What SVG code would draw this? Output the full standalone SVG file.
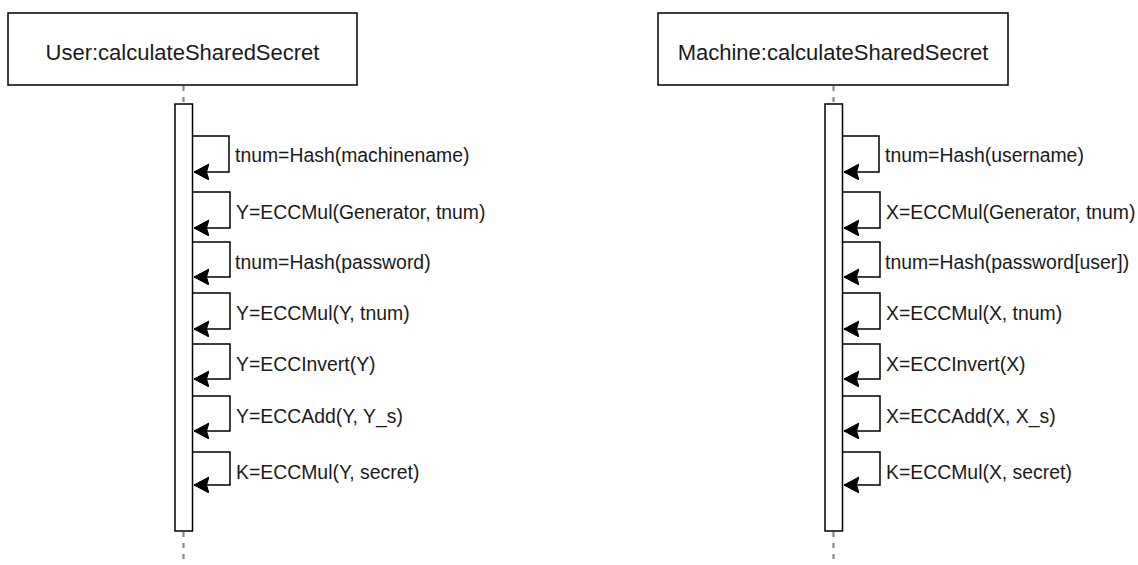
<svg xmlns="http://www.w3.org/2000/svg" width="1138" height="565" viewBox="0 0 1138 565">
  <style>
    .head { fill: #ffffff; stroke: #000000; stroke-width: 1.5; }
    .act { fill: #ffffff; stroke: #000000; stroke-width: 1.5; }
    .life { stroke: #8a8a8a; stroke-width: 2.2; stroke-dasharray: 5 6; fill: none; }
    .title { font-family: "Liberation Sans", Arial, sans-serif; font-size: 22px; fill: #1a1a1a; text-anchor: middle; }
    .msg { fill: none; stroke: #000000; stroke-width: 1.5; marker-end: url(#arrow); }
    .lbl { font-family: "Liberation Sans", Arial, sans-serif; font-size: 19.4px; fill: #1a1a1a; }
  </style>
  <defs>
    <marker id="arrow" markerUnits="userSpaceOnUse" markerWidth="18" markerHeight="18" refX="15" refY="8" orient="auto" viewBox="0 0 18 18">
      <path d="M0,0 L15,8 L0,16 L2.5,8 Z" fill="#000000" stroke="#000000" stroke-width="1" stroke-linejoin="miter"/>
    </marker>
  </defs>
  <rect width="1138" height="565" fill="#ffffff"/>

  <!-- User lifeline -->
  <g id="user">
    <rect class="head" x="8" y="13" width="349" height="72"/>
    <text class="title" x="182.5" y="59.5">User:calculateSharedSecret</text>
    <line class="life" x1="183.5" y1="86" x2="183.5" y2="104"/>
    <line class="life" x1="183.5" y1="532" x2="183.5" y2="565"/>
    <rect class="act" x="175" y="104" width="17.5" height="427"/>
  </g>

  <!-- Machine lifeline -->
  <g id="machine">
    <rect class="head" x="658" y="13" width="350" height="72"/>
    <text class="title" x="833" y="59.5">Machine:calculateSharedSecret</text>
    <line class="life" x1="833.5" y1="86" x2="833.5" y2="104"/>
    <line class="life" x1="833.5" y1="532" x2="833.5" y2="565"/>
    <rect class="act" x="825" y="104" width="17.5" height="427"/>
  </g>

  <!-- self-call connectors -->
  <g id="connectors">
    <path class="msg" d="M192.5,136 H229 V172 H194"/>
    <path class="msg" d="M192.5,192 H230 V228 H194"/>
    <path class="msg" d="M192.5,242 H230 V277 H194"/>
    <path class="msg" d="M192.5,293 H230 V329 H194"/>
    <path class="msg" d="M192.5,344 H230 V379 H194"/>
    <path class="msg" d="M192.5,396 H230 V431 H194"/>
    <path class="msg" d="M192.5,452 H230 V485 H194"/>

    <path class="msg" d="M842.5,136 H879 V172 H844"/>
    <path class="msg" d="M842.5,192 H880 V228 H844"/>
    <path class="msg" d="M842.5,242 H880 V277 H844"/>
    <path class="msg" d="M842.5,293 H880 V329 H844"/>
    <path class="msg" d="M842.5,344 H880 V379 H844"/>
    <path class="msg" d="M842.5,396 H880 V431 H844"/>
    <path class="msg" d="M842.5,452 H880 V485 H844"/>
  </g>

  <!-- message labels -->
  <g id="user-labels">
    <text class="lbl" x="235" y="162">tnum=Hash(machinename)</text>
    <text class="lbl" x="236" y="219">Y=ECCMul(Generator, tnum)</text>
    <text class="lbl" x="235" y="269">tnum=Hash(password)</text>
    <text class="lbl" x="236" y="320">Y=ECCMul(Y, tnum)</text>
    <text class="lbl" x="236" y="371">Y=ECCInvert(Y)</text>
    <text class="lbl" x="236" y="423">Y=ECCAdd(Y, Y_s)</text>
    <text class="lbl" x="236" y="479">K=ECCMul(Y, secret)</text>
  </g>
  <g id="machine-labels">
    <text class="lbl" x="885" y="162">tnum=Hash(username)</text>
    <text class="lbl" x="886" y="219">X=ECCMul(Generator, tnum)</text>
    <text class="lbl" x="885" y="269">tnum=Hash(password[user])</text>
    <text class="lbl" x="886" y="320">X=ECCMul(X, tnum)</text>
    <text class="lbl" x="886" y="371">X=ECCInvert(X)</text>
    <text class="lbl" x="886" y="423">X=ECCAdd(X, X_s)</text>
    <text class="lbl" x="886" y="479">K=ECCMul(X, secret)</text>
  </g>
</svg>
